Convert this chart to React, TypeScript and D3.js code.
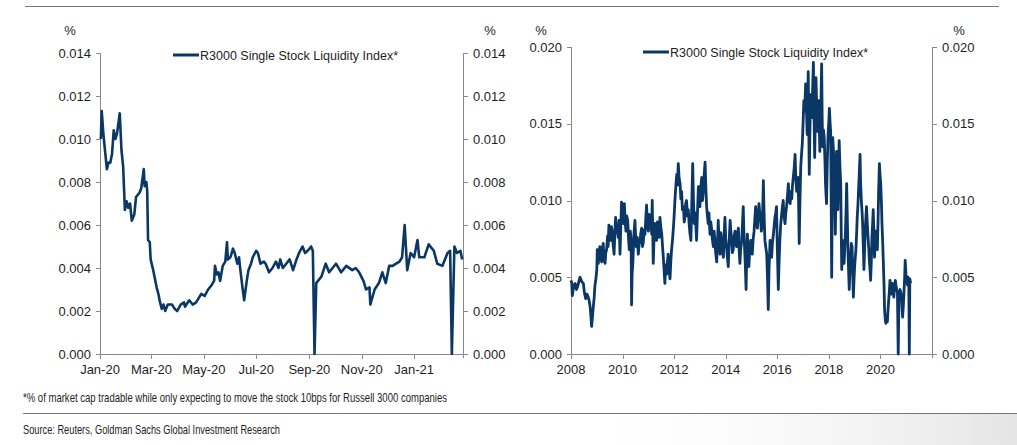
import React from "react";
import * as d3 from "d3";

// ---------- DATA ----------
const legendLabel = "R3000 Single Stock Liquidity Index*";
const noteText = "*% of market cap tradable while only expecting to move the stock 10bps for Russell 3000 companies";
const sourceText = "Source: Reuters, Goldman Sachs Global Investment Research";

// Left panel: Jan-2020 to Feb-2021 (daily index, sampled)
const leftDates = [
  "2020-01-02","2020-01-03","2020-01-05","2020-01-07","2020-01-09","2020-01-11","2020-01-13","2020-01-15",
  "2020-01-17","2020-01-19","2020-01-21","2020-01-24","2020-01-26","2020-01-28","2020-01-30","2020-02-01",
  "2020-02-03","2020-02-05","2020-02-07","2020-02-10","2020-02-12","2020-02-16","2020-02-18","2020-02-21",
  "2020-02-22","2020-02-24","2020-02-25","2020-02-26","2020-02-28","2020-02-29","2020-03-03","2020-03-07",
  "2020-03-09","2020-03-11","2020-03-13","2020-03-15","2020-03-17","2020-03-20","2020-03-25","2020-03-28",
  "2020-03-31","2020-04-04","2020-04-08","2020-04-09","2020-04-14","2020-04-18","2020-04-22","2020-04-28",
  "2020-05-02","2020-05-06","2020-05-10","2020-05-13","2020-05-14","2020-05-16","2020-05-18","2020-05-20",
  "2020-05-23","2020-05-26","2020-05-28","2020-05-29","2020-06-01","2020-06-04","2020-06-06","2020-06-09",
  "2020-06-11","2020-06-12","2020-06-15","2020-06-17","2020-06-20","2020-06-22","2020-06-25","2020-06-27",
  "2020-07-01","2020-07-03","2020-07-06","2020-07-10","2020-07-12","2020-07-16","2020-07-20","2020-07-24",
  "2020-07-27","2020-07-29","2020-08-01","2020-08-05","2020-08-09","2020-08-13","2020-08-17","2020-08-20",
  "2020-08-24","2020-08-27","2020-08-30","2020-09-03","2020-09-05","2020-09-07","2020-09-09","2020-09-15",
  "2020-09-20","2020-09-24","2020-09-28","2020-10-02","2020-10-08","2020-10-14","2020-10-21","2020-10-25",
  "2020-10-29","2020-11-03","2020-11-06","2020-11-10","2020-11-11","2020-11-16","2020-11-21","2020-11-25",
  "2020-11-29","2020-12-03","2020-12-07","2020-12-11","2020-12-15","2020-12-18","2020-12-21","2020-12-24",
  "2020-12-28","2021-01-01","2021-01-05","2021-01-07","2021-01-13","2021-01-18","2021-01-24","2021-01-28",
  "2021-02-03","2021-02-09","2021-02-12","2021-02-14","2021-02-17","2021-02-20","2021-02-24","2021-02-26"
];
const leftValues = [
  0.0100,0.0113,0.0102,0.0094,0.0086,0.0089,0.0089,0.0093,
  0.0104,0.0100,0.0103,0.0112,0.0095,0.0087,0.0067,0.0071,
  0.0068,0.0070,0.0062,0.0065,0.0073,0.0075,0.0077,0.0086,
  0.0078,0.0080,0.0076,0.0053,0.0052,0.0044,0.0039,0.0031,
  0.0028,0.0024,0.0021,0.0023,0.0020,0.0023,0.0023,0.0021,
  0.0020,0.0023,0.0024,0.0022,0.0025,0.0023,0.0024,0.0028,
  0.0027,0.0030,0.0032,0.0034,0.0041,0.0037,0.0038,0.0034,
  0.0041,0.0043,0.0052,0.0044,0.0045,0.0049,0.0047,0.0042,
  0.0045,0.0041,0.0031,0.0025,0.0034,0.0039,0.0042,0.0045,
  0.0048,0.0047,0.0042,0.0043,0.0042,0.0038,0.0040,0.0043,
  0.0040,0.0044,0.0040,0.0042,0.0044,0.0039,0.0044,0.0047,
  0.0050,0.0047,0.0048,0.0050,0.0048,0.0000,0.0033,0.0036,
  0.0042,0.0038,0.0040,0.0042,0.0038,0.0041,0.0039,0.0040,
  0.0038,0.0034,0.0030,0.0031,0.0023,0.0030,0.0033,0.0038,
  0.0033,0.0041,0.0041,0.0042,0.0043,0.0045,0.0060,0.0039,
  0.0047,0.0045,0.0053,0.0045,0.0045,0.0051,0.0048,0.0042,
  0.0041,0.0047,0.0048,0.0000,0.0050,0.0047,0.0048,0.0044
];
const leftTickDates = ["2020-01-01","2020-03-01","2020-05-01","2020-07-01","2020-09-01","2020-11-01","2021-01-01"];
const leftTickLabels = ["Jan-20","Mar-20","May-20","Jul-20","Sep-20","Nov-20","Jan-21"];
const leftYTicks = [0, 0.002, 0.004, 0.006, 0.008, 0.010, 0.012, 0.014];

// Right panel: 2008 to early 2021, [decimal year, value]
const rightSeries: [number, number][] = [
  [2008.00,.0048],[2008.03,.0046],[2008.05,.0038],[2008.10,.0044],[2008.16,.0046],[2008.21,.0042],[2008.26,.0044],[2008.30,.0047],
  [2008.35,.0050],[2008.42,.0047],[2008.48,.0046],[2008.52,.0040],[2008.57,.0036],[2008.62,.0039],[2008.67,.0037],[2008.70,.0035],
  [2008.74,.0031],[2008.77,.0025],[2008.80,.0018],[2008.85,.0028],[2008.90,.0037],[2008.93,.0045],[2008.96,.0048],
  [2009.00,.0055],[2009.02,.0068],[2009.04,.0062],[2009.06,.0059],[2009.09,.0066],[2009.12,.0070],[2009.15,.0063],[2009.19,.0060],
  [2009.22,.0069],[2009.25,.0072],[2009.28,.0062],[2009.32,.0059],[2009.35,.0066],[2009.38,.0068],[2009.42,.0077],[2009.44,.0070],
  [2009.47,.0084],[2009.50,.0078],[2009.54,.0074],[2009.57,.0083],[2009.60,.0080],[2009.63,.0072],[2009.67,.0065],[2009.70,.0078],
  [2009.73,.0089],[2009.76,.0079],[2009.80,.0082],[2009.83,.0076],[2009.86,.0087],[2009.88,.0078],[2009.90,.0065],[2009.93,.0082],
  [2009.96,.0099],[2009.99,.0090],
  [2010.03,.0085],[2010.05,.0093],[2010.07,.0098],[2010.10,.0086],[2010.13,.0080],[2010.16,.0090],[2010.20,.0087],[2010.23,.0076],
  [2010.26,.0068],[2010.30,.0080],[2010.33,.0074],[2010.35,.0032],[2010.37,.0052],[2010.40,.0060],[2010.44,.0078],[2010.48,.0087],
  [2010.50,.0079],[2010.53,.0070],[2010.57,.0076],[2010.61,.0065],[2010.64,.0071],[2010.68,.0074],[2010.71,.0079],[2010.74,.0082],
  [2010.77,.0070],[2010.80,.0072],[2010.84,.0081],[2010.87,.0078],[2010.90,.0088],[2010.93,.0097],[2010.96,.0086],
  [2011.00,.0080],[2011.02,.0088],[2011.04,.0091],[2011.07,.0082],[2011.10,.0085],[2011.13,.0078],[2011.15,.0100],[2011.17,.0080],
  [2011.19,.0059],[2011.22,.0075],[2011.26,.0085],[2011.29,.0078],[2011.32,.0074],[2011.35,.0086],[2011.39,.0082],[2011.42,.0076],
  [2011.45,.0089],[2011.48,.0083],[2011.52,.0078],[2011.55,.0070],[2011.58,.0063],[2011.61,.0055],[2011.64,.0046],[2011.67,.0058],
  [2011.71,.0052],[2011.74,.0060],[2011.77,.0065],[2011.80,.0055],[2011.84,.0049],[2011.87,.0060],[2011.90,.0068],[2011.93,.0073],
  [2011.97,.0082],
  [2012.00,.0090],[2012.03,.0100],[2012.06,.0108],[2012.10,.0117],[2012.13,.0110],[2012.16,.0124],[2012.19,.0115],[2012.23,.0111],
  [2012.26,.0101],[2012.29,.0106],[2012.32,.0094],[2012.36,.0096],[2012.39,.0086],[2012.42,.0089],[2012.45,.0098],[2012.48,.0100],
  [2012.52,.0090],[2012.55,.0094],[2012.58,.0085],[2012.61,.0079],[2012.65,.0074],[2012.68,.0095],[2012.72,.0124],[2012.75,.0100],
  [2012.78,.0085],[2012.82,.0092],[2012.87,.0074],[2012.90,.0090],[2012.94,.0109],[2012.97,.0100],
  [2013.00,.0096],[2013.03,.0108],[2013.07,.0115],[2013.10,.0100],[2013.13,.0106],[2013.17,.0118],[2013.20,.0125],[2013.23,.0108],
  [2013.26,.0096],[2013.29,.0090],[2013.32,.0085],[2013.35,.0092],[2013.39,.0078],[2013.42,.0086],[2013.45,.0082],[2013.48,.0075],
  [2013.52,.0070],[2013.55,.0080],[2013.58,.0074],[2013.61,.0066],[2013.65,.0060],[2013.68,.0072],[2013.71,.0087],[2013.74,.0074],
  [2013.78,.0065],[2013.81,.0079],[2013.84,.0074],[2013.87,.0068],[2013.91,.0063],[2013.94,.0078],[2013.97,.0089],
  [2014.00,.0075],[2014.04,.0068],[2014.07,.0062],[2014.10,.0057],[2014.13,.0072],[2014.17,.0087],[2014.20,.0080],[2014.23,.0074],
  [2014.26,.0066],[2014.29,.0068],[2014.32,.0076],[2014.36,.0080],[2014.39,.0072],[2014.42,.0070],[2014.45,.0078],[2014.49,.0082],
  [2014.52,.0068],[2014.55,.0059],[2014.58,.0068],[2014.62,.0074],[2014.65,.0085],[2014.68,.0096],[2014.70,.0082],[2014.72,.0074],
  [2014.76,.0058],[2014.79,.0042],[2014.81,.0060],[2014.84,.0078],[2014.87,.0066],[2014.90,.0057],[2014.93,.0068],[2014.97,.0074],
  [2015.00,.0070],[2015.03,.0065],[2015.06,.0074],[2015.10,.0080],[2015.13,.0088],[2015.16,.0096],[2015.19,.0086],[2015.23,.0082],
  [2015.26,.0090],[2015.29,.0098],[2015.32,.0092],[2015.35,.0089],[2015.38,.0080],[2015.42,.0085],[2015.44,.0098],[2015.46,.0113],
  [2015.49,.0090],[2015.52,.0074],[2015.55,.0070],[2015.59,.0065],[2015.62,.0050],[2015.65,.0029],[2015.68,.0055],[2015.72,.0074],
  [2015.75,.0068],[2015.78,.0063],[2015.81,.0072],[2015.85,.0078],[2015.88,.0084],[2015.91,.0089],[2015.94,.0092],[2015.97,.0096],
  [2016.00,.0070],[2016.04,.0042],[2016.07,.0060],[2016.10,.0074],[2016.13,.0084],[2016.17,.0091],[2016.20,.0096],[2016.23,.0100],
  [2016.26,.0090],[2016.30,.0085],[2016.33,.0092],[2016.36,.0096],[2016.40,.0104],[2016.43,.0111],[2016.46,.0100],[2016.50,.0098],
  [2016.53,.0106],[2016.56,.0101],[2016.59,.0110],[2016.62,.0115],[2016.66,.0122],[2016.69,.0130],[2016.72,.0114],[2016.75,.0106],
  [2016.78,.0112],[2016.81,.0115],[2016.83,.0095],[2016.85,.0072],[2016.88,.0100],[2016.91,.0122],[2016.94,.0130],[2016.97,.0137],
  [2017.00,.0150],[2017.03,.0165],[2017.06,.0158],[2017.10,.0176],[2017.13,.0160],[2017.16,.0143],[2017.18,.0165],[2017.20,.0184],
  [2017.22,.0150],[2017.24,.0117],[2017.27,.0150],[2017.29,.0169],[2017.32,.0160],[2017.34,.0154],[2017.37,.0172],[2017.40,.0190],
  [2017.43,.0150],[2017.45,.0128],[2017.48,.0160],[2017.50,.0180],[2017.53,.0160],[2017.55,.0145],[2017.58,.0158],[2017.60,.0165],
  [2017.63,.0148],[2017.65,.0132],[2017.69,.0160],[2017.72,.0189],[2017.74,.0155],[2017.76,.0135],[2017.79,.0146],[2017.82,.0141],
  [2017.85,.0125],[2017.87,.0111],[2017.89,.0104],[2017.91,.0098],[2017.94,.0125],[2017.97,.0143],[2018.00,.0152],
  [2018.02,.0160],[2018.05,.0150],[2018.07,.0145],[2018.09,.0100],[2018.11,.0050],[2018.13,.0100],[2018.15,.0141],[2018.18,.0132],
  [2018.20,.0126],[2018.23,.0100],[2018.25,.0078],[2018.28,.0108],[2018.30,.0132],[2018.33,.0112],[2018.35,.0094],[2018.38,.0120],
  [2018.40,.0139],[2018.43,.0122],[2018.46,.0111],[2018.48,.0080],[2018.50,.0055],[2018.53,.0074],[2018.56,.0066],[2018.59,.0059],
  [2018.62,.0070],[2018.64,.0078],[2018.67,.0095],[2018.69,.0111],[2018.72,.0085],[2018.74,.0068],[2018.77,.0052],[2018.79,.0042],
  [2018.82,.0055],[2018.84,.0063],[2018.87,.0072],[2018.90,.0070],[2018.93,.0050],[2018.95,.0037],[2018.98,.0050],
  [2019.00,.0057],[2019.03,.0064],[2019.05,.0068],[2019.08,.0080],[2019.10,.0089],[2019.13,.0098],[2019.15,.0106],[2019.18,.0118],
  [2019.21,.0130],[2019.23,.0112],[2019.26,.0100],[2019.29,.0092],[2019.31,.0085],[2019.34,.0068],[2019.36,.0055],[2019.39,.0070],
  [2019.41,.0080],[2019.44,.0090],[2019.46,.0096],[2019.49,.0085],[2019.52,.0076],[2019.55,.0068],[2019.57,.0061],[2019.60,.0054],
  [2019.62,.0048],[2019.65,.0062],[2019.67,.0076],[2019.70,.0086],[2019.72,.0094],[2019.75,.0078],[2019.77,.0063],[2019.80,.0072],
  [2019.83,.0080],[2019.86,.0074],[2019.88,.0068],[2019.91,.0088],[2019.93,.0106],[2019.96,.0124],[2019.98,.0118],
  [2020.01,.0111],[2020.04,.0098],[2020.06,.0085],[2020.09,.0072],[2020.11,.0061],[2020.14,.0045],[2020.16,.0029],[2020.19,.0022],
  [2020.21,.0020],[2020.24,.0025],[2020.27,.0021],[2020.30,.0030],[2020.32,.0035],[2020.35,.0042],[2020.37,.0048],[2020.40,.0044],
  [2020.42,.0039],[2020.45,.0043],[2020.47,.0046],[2020.50,.0041],[2020.52,.0037],[2020.55,.0044],[2020.58,.0048],[2020.60,.0045],
  [2020.63,.0042],[2020.66,.0040],[2020.69,.0000],[2020.72,.0038],[2020.76,.0042],[2020.79,.0040],[2020.82,.0037],[2020.84,.0030],
  [2020.86,.0024],[2020.89,.0032],[2020.91,.0039],[2020.94,.0050],[2020.96,.0061],[2020.99,.0052],[2021.02,.0048],[2021.05,.0045],
  [2021.07,.0050],[2021.10,.0048],[2021.12,.0000],[2021.14,.0049],[2021.17,.0046]
];
const rightXTicks = [2008, 2010, 2012, 2014, 2016, 2018, 2020];
const rightYTicks = [0, 0.005, 0.010, 0.015, 0.020];

// ---------- STYLE ----------
const LINE = "#0b3766";
const AXIS = "#8a8a8a";
const TEXT = "#1e1e1e";
const FONT = "'Liberation Sans', Arial, sans-serif";
const NARROW = "'Liberation Sans Narrow', 'Arial Narrow', 'Liberation Sans', Arial, sans-serif";

const parse = d3.timeParse("%Y-%m-%d");

type PanelProps = {
  x: any;
  y: any;
  xTicks: any[];
  xLabels: string[];
  yTicks: number[];
  path: string;
  lineWidth: number;
  legendX: number;
  legendY: number;
};

function Panel({ x, y, xTicks, xLabels, yTicks, path, lineWidth, legendX, legendY }: PanelProps) {
  const [x0, x1] = x.range();
  const [y0, y1] = y.range();
  const fmt = d3.format(".3f");
  return (
    <g>
      <line x1={x0 + 0.5} x2={x0 + 0.5} y1={y1} y2={y0 + 4} stroke={AXIS} />
      <line x1={x1 + 0.5} x2={x1 + 0.5} y1={y1} y2={y0 + 4} stroke={AXIS} />
      <line x1={x0} x2={x1 + 4} y1={y0 + 0.5} y2={y0 + 0.5} stroke={AXIS} />
      {yTicks.map((t) => (
        <g key={"y" + t}>
          <line x1={x0 - 4} x2={x0} y1={Math.round(y(t)) + 0.5} y2={Math.round(y(t)) + 0.5} stroke={AXIS} />
          <line x1={x1} x2={x1 + 5} y1={Math.round(y(t)) + 0.5} y2={Math.round(y(t)) + 0.5} stroke={AXIS} />
          <text x={x0 - 9} y={y(t)} dy="0.36em" textAnchor="end" fontSize={13} fill={TEXT}>{fmt(t)}</text>
          <text x={x1 + 10} y={y(t)} dy="0.36em" textAnchor="start" fontSize={13} fill={TEXT}>{fmt(t)}</text>
        </g>
      ))}
      {xTicks.map((t, i) => (
        <g key={"x" + i}>
          <line x1={Math.round(x(t)) + 0.5} x2={Math.round(x(t)) + 0.5} y1={y0} y2={y0 + 5} stroke={AXIS} />
          <text x={x(t)} y={y0 + 20} textAnchor="middle" fontSize={13} fill={TEXT}>{xLabels[i]}</text>
        </g>
      ))}
      <text x={x0 - 30} y={35} textAnchor="middle" fontSize={13} fill={TEXT}>%</text>
      <text x={x1 + 27} y={35} textAnchor="middle" fontSize={13} fill={TEXT}>%</text>
      <path d={path} fill="none" stroke={LINE} strokeWidth={lineWidth} strokeLinejoin="round" />
      <line x1={legendX} x2={legendX + 26} y1={legendY} y2={legendY} stroke={LINE} strokeWidth={3} />
      <text x={legendX + 27} y={legendY} dy="0.36em" fontSize={12.5} fill={TEXT}>{legendLabel}</text>
    </g>
  );
}

export default function App() {
  const lx = d3.scaleTime().domain([parse("2020-01-01")!, parse("2021-02-27")!]).range([100, 463]);
  const ly = d3.scaleLinear().domain([0, 0.014]).range([354, 53]);
  const leftData = leftDates.map((d, i) => ({ d: parse(d)!, v: leftValues[i] }));
  const leftPath = d3.line<any>().x((p) => lx(p.d)).y((p) => ly(p.v))(leftData) || "";

  const rx = d3.scaleLinear().domain([2008, 2022]).range([571, 932]);
  const ry = d3.scaleLinear().domain([0, 0.02]).range([354, 47]);
  const rightPath = d3.line<[number, number]>().x((p) => rx(p[0])).y((p) => ry(p[1]))(rightSeries) || "";

  return (
    <svg width={1017} height={445} style={{ position: "absolute", left: 0, top: 0, background: "#fff" }} fontFamily={FONT}>
      <defs>
        <linearGradient id="shade" x1="0" x2="1" y1="0" y2="0">
          <stop offset="0.55" stopColor="#fff" stopOpacity={0} />
          <stop offset="1" stopColor="#e4e4e4" stopOpacity={1} />
        </linearGradient>
      </defs>
      <rect x={0} y={0} width={1017} height={445} fill="#fff" />
      <rect x={0} y={414} width={1017} height={31} fill="url(#shade)" />
      <line x1={25} x2={999} y1={6.5} y2={6.5} stroke="#777" />
      <Panel
        x={lx}
        y={ly}
        xTicks={leftTickDates.map((d) => parse(d)!)}
        xLabels={leftTickLabels}
        yTicks={leftYTicks}
        path={leftPath}
        lineWidth={2.6}
        legendX={173}
        legendY={55}
      />
      <Panel
        x={rx}
        y={ry}
        xTicks={rightXTicks}
        xLabels={rightXTicks.map((t) => String(t))}
        yTicks={rightYTicks}
        path={rightPath}
        lineWidth={2.8}
        legendX={643}
        legendY={52}
      />
      <text x={23} y={402} fontFamily={NARROW} fontSize={13} fill={TEXT} textLength={424} lengthAdjust="spacingAndGlyphs">{noteText}</text>
      <line x1={23} x2={1017} y1={413.5} y2={413.5} stroke="#777" />
      <text x={23} y={434} fontFamily={NARROW} fontSize={13} fill={TEXT} textLength={257} lengthAdjust="spacingAndGlyphs">{sourceText}</text>
    </svg>
  );
}
